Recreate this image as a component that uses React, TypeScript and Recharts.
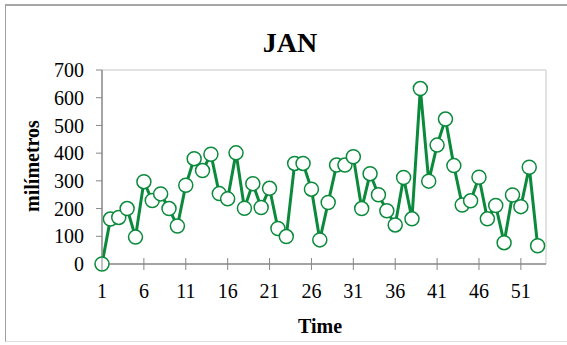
import React from "react";
import { LineChart, Line, XAxis, YAxis, ReferenceLine } from "recharts";

const serif = "Liberation Serif, Times New Roman, serif";
const green = "#0b8a3c";
const axisGray = "#868686";

// weekly rainfall for January
const rainMm = [
  0, 162, 168, 200, 97, 297, 229, 253, 200, 137,
  284, 380, 337, 396, 254, 235, 401, 201, 290, 204,
  273, 128, 99, 363, 363, 270, 87, 222, 357, 357,
  387, 200, 326, 250, 192, 141, 312, 163, 633, 299,
  429, 523, 355, 213, 228, 313, 163, 211, 77, 249,
  207, 349, 66,
];
const xTicks = [1, 6, 11, 16, 21, 26, 31, 36, 41, 46, 51];
const yTicks = [0, 100, 200, 300, 400, 500, 600, 700];

const data = rainMm.map((mm, i) => ({ t: i + 1, mm }));

// x ticks in the original cross the axis line
const XTick = (props: any) => {
  const { x, y, payload } = props;
  const axisY = y - 20;
  return (
    <g>
      <line x1={x} x2={x} y1={axisY - 6} y2={axisY + 6} stroke={axisGray} />
      <text x={x} y={y} dy="0.71em" textAnchor="middle" fill="#000" style={{ fontFamily: serif, fontSize: 20 }}>
        {payload.value}
      </text>
    </g>
  );
};

const YTick = (props: any) => {
  const { x, y, payload } = props;
  return (
    <text x={x} y={y} dy="0.355em" textAnchor="end" fill="#000" style={{ fontFamily: serif, fontSize: 20 }}>
      {payload.value}
    </text>
  );
};

export default function App() {
  return (
    <div style={{ position: "absolute", left: 0, top: 0, width: 567, height: 345, background: "#fff", overflow: "hidden", fontFamily: serif }}>
      <div
        style={{
          position: "absolute", left: 5, top: 4, width: 562, height: 338,
          borderLeft: "1px solid #a0a0a0", borderTop: "2px solid #a6a6a6", borderBottom: "1px solid #e0e0e0",
          boxSizing: "border-box",
        }}
      />
      <div style={{ position: "absolute", left: 190, width: 200, top: 29, textAlign: "center", fontWeight: "bold", fontSize: 28, lineHeight: "28px" }}>
        JAN
      </div>
      <div style={{ position: "absolute", left: 220, width: 200, top: 316, textAlign: "center", fontWeight: "bold", fontSize: 20, lineHeight: "20px" }}>
        Time
      </div>
      <div
        style={{
          position: "absolute", left: 32 - 70, width: 140, top: 166 - 10, textAlign: "center",
          fontWeight: "bold", fontSize: 20, lineHeight: "20px", transform: "rotate(-90deg)",
        }}
      >
        milímetros
      </div>
      <div style={{ position: "absolute", left: 0, top: 0 }}>
        <LineChart width={567} height={345} data={data} margin={{ top: 70, right: 21, bottom: 51, left: 0 }}>
          <ReferenceLine y={700} stroke="#d9d9d9" strokeWidth={1.5} />
          <ReferenceLine x={54} stroke="#d9d9d9" strokeWidth={1.5} />
          <XAxis
            dataKey="t"
            type="number"
            domain={[1, 54]}
            ticks={xTicks}
            interval={0}
            height={30}
            tickSize={6}
            tickMargin={14}
            tickLine={false}
            axisLine={{ stroke: axisGray, strokeWidth: 1.5 }}
            tick={<XTick />}
          />
          <YAxis
            domain={[0, 700]}
            ticks={yTicks}
            interval={0}
            width={102}
            tickSize={6}
            tickMargin={12}
            tickLine={{ stroke: axisGray }}
            axisLine={{ stroke: axisGray, strokeWidth: 1.5 }}
            tick={<YTick />}
          />
          <Line
            type="linear"
            dataKey="mm"
            stroke={green}
            strokeWidth={3}
            dot={{ r: 7, fill: "#fff", stroke: green, strokeWidth: 1.5 }}
            activeDot={false}
            isAnimationActive={false}
          />
        </LineChart>
      </div>
    </div>
  );
}
